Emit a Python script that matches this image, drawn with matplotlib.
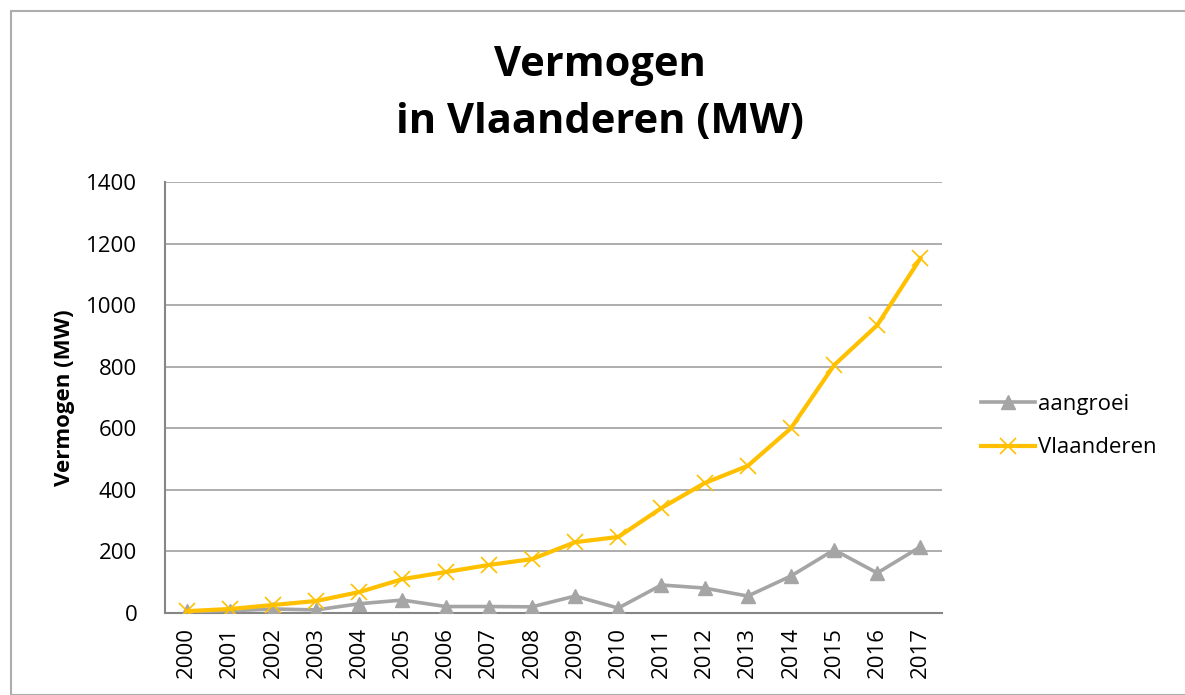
import numpy as np
import matplotlib
matplotlib.use("Agg")
from matplotlib import pyplot as plt
from matplotlib.patches import Rectangle


years = [str(y) for y in range(2000, 2018)]
vlaanderen = [6, 13, 26, 39, 68, 110, 133, 156, 175, 230, 247, 341, 422, 478, 600, 805, 935, 1152]
aangroei = [5, 7, 13, 10, 30, 42, 21, 21, 20, 55, 16, 91, 81, 55, 120, 205, 130, 215]
y_ticks = [0, 200, 400, 600, 800, 1000, 1200, 1400]

FONT = ["Open Sans", "DejaVu Sans"]


def main():
    plt.rcParams['font.family'] = FONT
    fig = plt.figure(figsize=(11.85, 6.95), dpi=100)

    # outer chart border
    fig.patches.append(Rectangle((11 / 1185, 0), 1.2, (695 - 11) / 695,
                                 transform=fig.transFigure, fill=False,
                                 edgecolor='#ADADAD', linewidth=1.5))

    ax = fig.add_axes([165 / 1185, 1 - 613 / 695, 777 / 1185, 431 / 695])
    x = np.arange(len(years))

    ax.plot(x, aangroei, color='#A5A5A5', linewidth=2.6, marker='^',
            markersize=10, label='aangroei', zorder=3)
    ax.plot(x, vlaanderen, color='#FFC000', linewidth=3.0, marker='x',
            markersize=11, markeredgewidth=1.2, label='Vlaanderen', zorder=4)

    ax.set_xlim(-0.5, len(years) - 0.5)
    ax.set_ylim(0, 1400)
    ax.set_yticks(y_ticks)
    ax.set_xticks(x)
    ax.set_xticklabels(years, rotation=90)
    ax.tick_params(length=0, labelsize=16, colors='black')
    ax.tick_params(axis='y', pad=20)
    ax.tick_params(axis='x', pad=10)

    ax.grid(axis='y', color='#A0A0A0', linewidth=1.2)
    ax.set_axisbelow(True)
    for side in ['top', 'right']:
        ax.spines[side].set_visible(False)
    for side in ['left', 'bottom']:
        ax.spines[side].set_color('#868686')
        ax.spines[side].set_linewidth(1.5)

    ax.set_ylabel('Vermogen (MW)', fontsize=16, fontweight='bold', labelpad=8)

    fig.text(600 / 1185, 1 - 94 / 695, 'Vermogen\nin Vlaanderen (MW)',
             ha='center', va='center', fontsize=30, fontweight='bold',
             linespacing=1.5)

    ax.legend(loc='center left', bbox_to_anchor=(1.025, 0.433), frameon=False,
              fontsize=16, handlelength=2.4, handletextpad=0.15,
              labelspacing=1.0)

    fig.savefig('out.png', dpi=100)


if __name__ == '__main__':
    main()
